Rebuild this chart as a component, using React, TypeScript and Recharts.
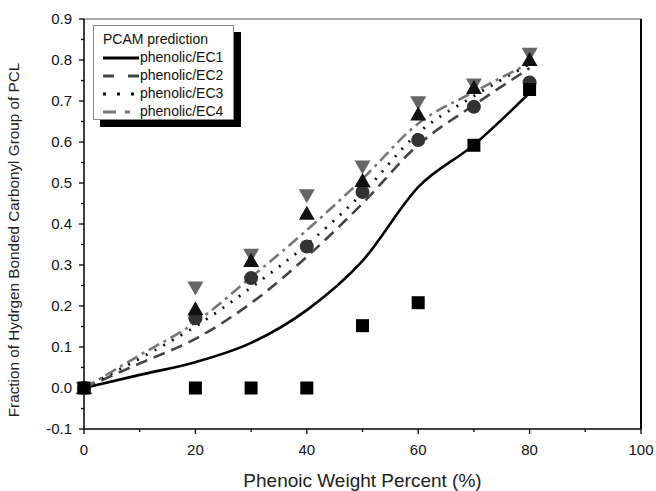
import { ComposedChart, Line, Scatter, XAxis, YAxis, ReferenceLine } from 'recharts';

// x positions for the PCAM prediction curves
const predX = [0, 10, 20, 30, 40, 50, 60, 70, 80];
const ec1Pred = [0, 0.032, 0.063, 0.11, 0.19, 0.31, 0.49, 0.593, 0.72];
const ec2Pred = [0, 0.06, 0.12, 0.207, 0.32, 0.45, 0.593, 0.69, 0.78];
const ec3Pred = [0, 0.072, 0.15, 0.245, 0.35, 0.475, 0.622, 0.712, 0.79];
const ec4Pred = [0, 0.08, 0.16, 0.27, 0.385, 0.51, 0.645, 0.722, 0.792];

// experimental points
const expX = [0, 20, 30, 40, 50, 60, 70, 80];
const ec1Exp = [0, 0, 0, 0, 0.152, 0.208, 0.592, 0.728];
const ec2Exp = [0, 0.17, 0.268, 0.345, 0.478, 0.605, 0.686, 0.745];
const ec3Exp = [0, 0.192, 0.31, 0.425, 0.505, 0.667, 0.732, 0.8];
const ec4Exp = [0, 0.245, 0.325, 0.47, 0.54, 0.697, 0.74, 0.815];

const xTicks = [0, 10, 20, 30, 40, 50, 60, 70, 80, 90, 100];
const yTicks = [-0.1, -0.05, 0, 0.05, 0.1, 0.15, 0.2, 0.25, 0.3, 0.35, 0.4, 0.45, 0.5, 0.55, 0.6, 0.65, 0.7, 0.75, 0.8, 0.85, 0.9];

const legendItems = [
  { name: 'phenolic/EC1', color: '#000', dash: undefined },
  { name: 'phenolic/EC2', color: '#444', dash: '11 14' },
  { name: 'phenolic/EC3', color: '#111', dash: '3 11' },
  { name: 'phenolic/EC4', color: '#777', dash: '13 9 5 20' }
];

const toPoints = (xs: number[], ys: number[]) => xs.map((x, i) => ({ x, y: ys[i] }));

const FONT = '"Liberation Sans", Arial, sans-serif';

function XTick({ x, y, payload }: any) {
  const major = payload.value % 20 === 0;
  return (
    <g>
      <line x1={x} x2={x} y1={y} y2={y + (major ? 5 : 3)} stroke="#000" strokeWidth={1.3} />
      {major && (
        <text x={x} y={y + 26} textAnchor="middle" fontSize={15} fontFamily={FONT} fill="#111">
          {payload.value}
        </text>
      )}
    </g>
  );
}

function YTick({ x, y, payload, index }: any) {
  const major = index % 2 === 0;
  return (
    <g>
      <line x1={x - (major ? 5 : 3)} x2={x} y1={y} y2={y} stroke="#000" strokeWidth={1.3} />
      {major && (
        <text x={x - 12} y={y + 5} textAnchor="end" fontSize={15} fontFamily={FONT} fill="#111">
          {payload.value.toFixed(1)}
        </text>
      )}
    </g>
  );
}

const square = ({ cx, cy }: any) => <rect x={cx - 6.5} y={cy - 6.5} width={13} height={13} fill="#000" />;
const circle = ({ cx, cy }: any) => <circle cx={cx} cy={cy} r={7} fill="#333" />;
const triUp = ({ cx, cy }: any) => (
  <polygon points={`${cx - 8},${cy + 6} ${cx + 8},${cy + 6} ${cx},${cy - 8}`} fill="#111" />
);
const triDown = ({ cx, cy }: any) => (
  <polygon points={`${cx - 8},${cy - 6} ${cx + 8},${cy - 6} ${cx},${cy + 8}`} fill="#666" />
);

function YLabel() {
  return (
    <text
      x={19}
      y={240}
      transform="rotate(-90, 19, 240)"
      textAnchor="middle"
      fontSize={15.3}
      fontFamily={FONT}
      fill="#222"
    >
      Fraction of Hydrgen Bonded Carbonyl Group of PCL
    </text>
  );
}

function PcamLegend() {
  return (
    <div style={{ position: 'absolute', left: 93, top: 25 }}>
      <div style={{ position: 'absolute', left: 7, top: 7, width: 141, height: 95, background: '#000' }} />
      <div
        style={{
          position: 'relative',
          width: 139,
          height: 93,
          background: '#fff',
          border: '1px solid #888',
          fontFamily: FONT,
          fontSize: 14,
          color: '#111',
          lineHeight: '18px'
        }}
      >
        <div style={{ paddingLeft: 9, paddingTop: 4 }}>PCAM prediction</div>
        {legendItems.map((it) => (
          <div key={it.name} style={{ display: 'flex', alignItems: 'center', height: 18 }}>
            <svg width={46} height={18} style={{ display: 'block' }}>
              <line
                x1={9}
                x2={45}
                y1={10}
                y2={10}
                stroke={it.color}
                strokeWidth={3}
                strokeDasharray={it.dash}
              />
            </svg>
            <span>{it.name}</span>
          </div>
        ))}
      </div>
    </div>
  );
}

export default function App() {
  return (
    <div style={{ position: 'absolute', left: 0, top: 0, width: 656, height: 491, background: '#fff' }}>
      <ComposedChart width={656} height={491} margin={{ top: 19, right: 15, left: 0, bottom: 0 }}>
        <XAxis
          dataKey="x"
          type="number"
          domain={[0, 100]}
          ticks={xTicks}
          interval={0}
          height={62}
          tickSize={0}
          tickMargin={0}
          tickLine={false}
          tick={<XTick />}
          stroke="#000"
          strokeWidth={1.5}
          label={{
            value: 'Phenoic Weight Percent (%)',
            position: 'insideBottom',
            offset: 4,
            style: { fontSize: 19, fontFamily: FONT, fill: '#222' }
          }}
        />
        <YAxis
          type="number"
          domain={[-0.1, 0.9]}
          ticks={yTicks}
          interval={0}
          width={84}
          tickSize={0}
          tickMargin={0}
          tickLine={false}
          tick={<YTick />}
          stroke="#000"
          strokeWidth={1.5}
          allowDataOverflow
          label={<YLabel />}
        />
        <ReferenceLine y={0.9} stroke="#555" strokeWidth={1} />
        <ReferenceLine x={100} stroke="#000" strokeWidth={2} />

        <Line data={toPoints(predX, ec1Pred)} dataKey="y" type="monotone" stroke="#000" strokeWidth={2.6} dot={false} isAnimationActive={false} />
        <Line data={toPoints(predX, ec2Pred)} dataKey="y" type="monotone" stroke="#444" strokeWidth={2.6} strokeDasharray="12 7" dot={false} isAnimationActive={false} />
        <Line data={toPoints(predX, ec3Pred)} dataKey="y" type="monotone" stroke="#111" strokeWidth={2.8} strokeDasharray="2 8" dot={false} isAnimationActive={false} />
        <Line data={toPoints(predX, ec4Pred)} dataKey="y" type="monotone" stroke="#777" strokeWidth={2.6} strokeDasharray="12 5 3 5" dot={false} isAnimationActive={false} />

        <Scatter data={toPoints(expX, ec2Exp)} dataKey="y" shape={circle} isAnimationActive={false} />
        <Scatter data={toPoints(expX, ec4Exp)} dataKey="y" shape={triDown} isAnimationActive={false} />
        <Scatter data={toPoints(expX, ec3Exp)} dataKey="y" shape={triUp} isAnimationActive={false} />
        <Scatter data={toPoints(expX, ec1Exp)} dataKey="y" shape={square} isAnimationActive={false} />
      </ComposedChart>
      <PcamLegend />
    </div>
  );
}
